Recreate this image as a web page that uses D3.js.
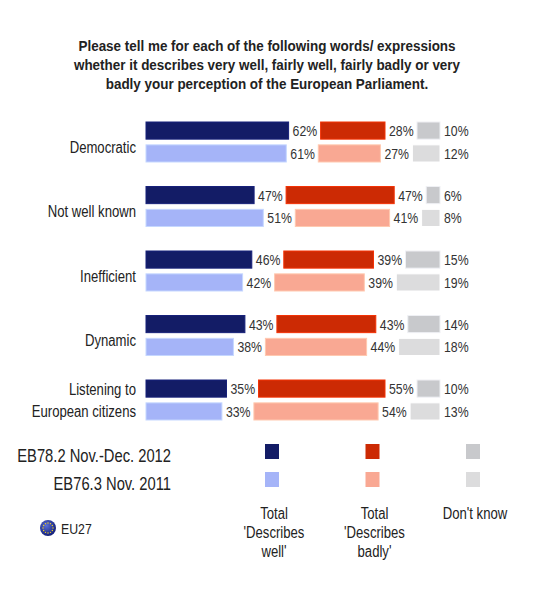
<!DOCTYPE html>
<html>
<head>
<meta charset="utf-8">
<script src="https://cdn.jsdelivr.net/npm/d3@7"></script>
<style>
  body { margin: 0; background: #fff; }
  svg text { font-family: "Liberation Sans", Arial, sans-serif; fill: #222; }
</style>
</head>
<body>
<svg width="550" height="595"></svg>
<script>
// data
var categories = ["Democratic", "Not well known", "Inefficient", "Dynamic", "Listening to European citizens"];
var waves = ["EB78.2 Nov.-Dec. 2012", "EB76.3 Nov. 2011"];
var answers = ["Total\n'Describes\nwell'", "Total\n'Describes\nbadly'", "Don't know"];

var well2012   = [62, 47, 46, 43, 35];
var badly2012  = [28, 47, 39, 43, 55];
var dk2012     = [10, 6, 15, 14, 10];
var well2011   = [61, 51, 42, 38, 33];
var badly2011  = [27, 41, 39, 44, 54];
var dk2011     = [12, 8, 19, 18, 13];

var colors2012 = ["#131c66", "#cc2a04", "#c8c9cc"];
var colors2011 = ["#a5b4f8", "#f9a893", "#dcdcdd"];

var titleLines = [
  "Please tell me for each of the following words/ expressions",
  "whether it describes very well, fairly well, fairly badly or very",
  "badly your perception of the European Parliament."
];

var NARROW = 0.82; // the original uses a narrow Arial, squeeze Liberation Sans

var svg = d3.select("svg");

// put a text at x,y squeezed horizontally
function place(sel, px, py, sx) {
  return sel.attr("transform", "translate(" + px + "," + py + ") scale(" + (sx || NARROW) + ",1)");
}

// title
titleLines.forEach(function(line, i) {
  place(svg.append("text")
    .attr("text-anchor", "middle")
    .style("font-weight", "bold")
    .style("font-size", "14px")
    .text(line), 267, 51 + i * 19, 0.96);
});

var barLeft = 146, gap = 32;
var x = d3.scaleLinear().domain([0, 100]).range([0, 230]);
var y = d3.scaleBand().domain(categories).range([122, 444.5]);
var yWave = d3.scaleBand().domain([0, 1]).range([0, 40]).paddingInner(0.25);

var rows = [];
categories.forEach(function(c, i) {
  rows.push({cat: c, wave: 0, vals: [well2012[i], badly2012[i], dk2012[i]], cols: colors2012});
  rows.push({cat: c, wave: 1, vals: [well2011[i], badly2011[i], dk2011[i]], cols: colors2011});
});

var segs = [];
rows.forEach(function(r) {
  var start = barLeft;
  r.vals.forEach(function(v, k) {
    segs.push({cat: r.cat, wave: r.wave, v: v, x0: start, col: r.cols[k]});
    start += x(v) + gap;
  });
});

var g = svg.append("g");
g.selectAll("rect")
  .data(segs)
  .enter().append("rect")
  .attr("x", function(d) { return d.x0; })
  .attr("y", function(d) { return y(d.cat) + yWave(d.wave); })
  .attr("width", function(d) { return x(d.v); })
  .attr("height", yWave.bandwidth())
  .attr("fill", function(d) { return d.col; })
  .attr("stroke", function(d) { return d3.color(d.col).brighter(0.5); })
  .attr("stroke-width", 1);

g.selectAll("text.val")
  .data(segs)
  .enter().append("text")
  .attr("class", "val")
  .style("font-size", "15px")
  .style("fill", "#333")
  .text(function(d) { return d.v + "%"; })
  .each(function(d) {
    place(d3.select(this), d.x0 + x(d.v) + 4, y(d.cat) + yWave(d.wave) + yWave.bandwidth() / 2 + 5.5);
  });

// category labels
categories.forEach(function(c) {
  if (c.indexOf("Listening") === 0) {
    ["Listening to", "European citizens"].forEach(function(line, j) {
      place(svg.append("text").attr("text-anchor", "end").style("font-size", "16px").text(line),
        136, y(c) + yWave(j) + yWave.bandwidth() / 2 + 6);
    });
  } else {
    place(svg.append("text").attr("text-anchor", "end").style("font-size", "16px").text(c),
      136, y(c) + 30.5);
  }
});

// legend
var lx = d3.scalePoint().domain(d3.range(answers.length)).range([272, 473]);
waves.forEach(function(w, i) {
  place(svg.append("text").attr("text-anchor", "end").style("font-size", "18px").text(w),
    171, 462 + i * 28);
});

answers.forEach(function(a, k) {
  svg.append("rect").attr("x", lx(k) - 7).attr("y", 444).attr("width", 14).attr("height", 15).attr("fill", colors2012[k]);
  svg.append("rect").attr("x", lx(k) - 7).attr("y", 472).attr("width", 14).attr("height", 15).attr("fill", colors2011[k]);
  a.split("\n").forEach(function(line, j) {
    place(svg.append("text").attr("text-anchor", "middle").style("font-size", "16px").text(line),
      lx(k) + 2, 519 + j * 19);
  });
});

// EU27 flag
var defs = svg.append("defs");
var grad = defs.append("radialGradient").attr("id", "flag").attr("cx", "40%").attr("cy", "35%").attr("r", "65%");
grad.append("stop").attr("offset", "0%").attr("stop-color", "#5a6ed8");
grad.append("stop").attr("offset", "100%").attr("stop-color", "#13207a");
svg.append("circle").attr("cx", 48).attr("cy", 528).attr("r", 8).attr("fill", "url(#flag)");
svg.selectAll("circle.star")
  .data(d3.range(12))
  .enter().append("circle")
  .attr("class", "star")
  .attr("cx", function(d) { return 48 + 5 * Math.cos(d * Math.PI / 6); })
  .attr("cy", function(d) { return 528 + 5 * Math.sin(d * Math.PI / 6); })
  .attr("r", 0.7)
  .attr("fill", "#f5d31a");
place(svg.append("text").style("font-size", "15px").text("EU27"), 61, 534);
</script>
</body>
</html>
